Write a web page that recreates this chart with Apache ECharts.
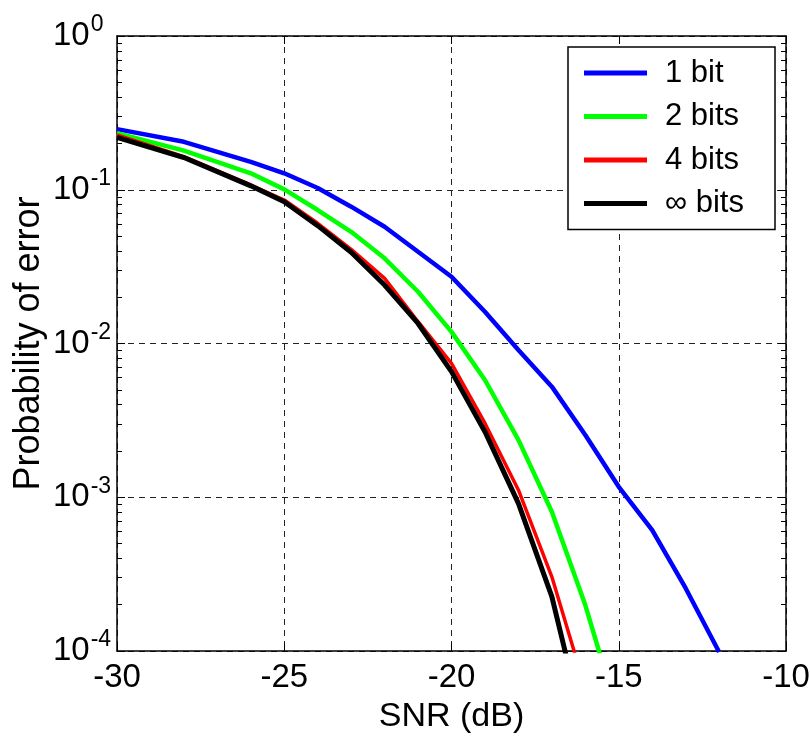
<!DOCTYPE html>
<html>
<head>
<meta charset="utf-8">
<script src="https://cdn.jsdelivr.net/npm/echarts@6/dist/echarts.min.js"></script>
<style>
  html, body { margin: 0; padding: 0; background: #fff; }
  #chart { width: 810px; height: 737px; }
</style>
</head>
<body>
<div id="chart"></div>
<script>
// values (SNR in dB, probability of error)
var snr1 = [-30, -28, -26, -25, -24, -23, -22, -21, -20, -19, -18, -17, -16, -15, -14, -13, -12];
var bit1 = [0.248, 0.205, 0.152, 0.128, 0.1026, 0.0776, 0.0575, 0.0395, 0.0272, 0.0161, 0.00908, 0.00524, 0.00254, 0.00117, 0.000612, 0.000256, 0.0000986];

var snr2 = [-30, -28, -26, -25, -24, -23, -22, -21, -20, -19, -18, -17, -16, -15];
var bit2 = [0.233, 0.1795, 0.128, 0.1006, 0.0738, 0.0533, 0.0358, 0.0217, 0.0119, 0.00579, 0.00236, 0.000805, 0.000199, 0.000037];

var snr4 = [-30, -28, -26, -25, -24, -23, -22, -21, -20, -19, -18, -17, -16];
var bit4 = [0.227, 0.164, 0.1074, 0.0858, 0.0605, 0.041, 0.0265, 0.01386, 0.00743, 0.00303, 0.001115, 0.000304, 0.000057];

var snrInf = [-30, -28, -26, -25, -24, -23, -22, -21, -20, -19, -18, -17, -16];
var bitInf = [0.219, 0.162, 0.106, 0.0836, 0.0584, 0.0392, 0.024, 0.0135, 0.00656, 0.00267, 0.000912, 0.000226, 0.0000285];

var names = ['1 bit', '2 bits', '4 bits', '\u221E bits'];
var colors = ['#0000ff', '#00ff00', '#ff0000', '#000000'];

function pairs(xs, ys) {
  var out = [];
  for (var i = 0; i < xs.length; i++) out.push([xs[i], ys[i]]);
  return out;
}

function mkLine(i, xs, ys, width) {
  return {
    name: names[i],
    type: 'line',
    data: pairs(xs, ys),
    symbol: 'none',
    clip: true,
    lineStyle: { color: colors[i], width: width },
    itemStyle: { color: colors[i] },
    z: 5
  };
}

var font = 'Liberation Sans, Arial, sans-serif';
var grid = { color: '#222', type: [6, 5], width: 1 };

var chart = echarts.init(document.getElementById('chart'));
chart.setOption({
  animation: false,
  backgroundColor: '#fff',
  grid: { left: 117, right: 24, top: 36, bottom: 86, containLabel: false, outerBoundsMode: 'none' },
  legend: {
    data: names.map(function (n) { return { name: n, icon: 'rect' }; }),
    orient: 'vertical',
    right: 35,
    top: 47,
    itemWidth: 63,
    itemHeight: 5,
    itemGap: 7.5,
    padding: [8, 22, 8, 16],
    borderColor: '#000',
    borderWidth: 1.5,
    borderRadius: 0,
    backgroundColor: '#fff',
    textStyle: { fontFamily: font, fontSize: 31, color: '#000', lineHeight: 36, width: 88, padding: [0, 0, 0, 13] }
  },
  xAxis: [{
    type: 'value',
    min: -30, max: -10, interval: 5,
    name: 'SNR (dB)',
    nameLocation: 'middle',
    nameGap: 49,
    nameMoveOverlap: false,
    nameTextStyle: { fontFamily: font, fontSize: 34, color: '#000' },
    axisLine: { lineStyle: { color: '#000', width: 1.5 } },
    axisTick: { inside: true, length: 8, lineStyle: { color: '#000' } },
    axisLabel: { fontFamily: font, fontSize: 33, color: '#000', margin: 10 },
    splitLine: { show: true, lineStyle: grid }
  }, {
    type: 'value', position: 'top',
    min: -30, max: -10, interval: 5,
    axisLine: { lineStyle: { color: '#000', width: 1.5 } },
    axisTick: { inside: true, length: 8, lineStyle: { color: '#000' } },
    axisLabel: { show: false },
    splitLine: { show: false }
  }],
  yAxis: [{
    type: 'log',
    min: 0.0001, max: 1,
    logBase: 10,
    name: 'Probability of error',
    nameLocation: 'middle',
    nameGap: 70,
    nameMoveOverlap: false,
    nameTextStyle: { fontFamily: font, fontSize: 36, color: '#000' },
    axisLine: { lineStyle: { color: '#000', width: 1.5 } },
    axisTick: { inside: true, length: 8, lineStyle: { color: '#000' } },
    minorTick: { show: true, splitNumber: 9, length: 5, lineStyle: { color: '#000' } },
    axisLabel: {
      margin: 64,
      align: 'left',
      formatter: function (v) {
        var e = Math.round(Math.log10(v));
        return '{b|10}{s|' + e + '}';
      },
      rich: {
        b: { fontFamily: font, fontSize: 33, color: '#000' },
        s: { fontFamily: font, fontSize: 23, color: '#000', padding: [0, 0, 22, 1] }
      }
    },
    splitLine: { show: true, lineStyle: grid }
  }, {
    type: 'log',
    min: 0.0001, max: 1,
    logBase: 10,
    position: 'right',
    axisLine: { lineStyle: { color: '#000', width: 1.5 } },
    axisTick: { inside: true, length: 8, lineStyle: { color: '#000' } },
    minorTick: { show: true, splitNumber: 9, length: 5, lineStyle: { color: '#000' } },
    axisLabel: { show: false },
    splitLine: { show: false }
  }],
  series: [
    mkLine(0, snr1, bit1, 4.5),
    mkLine(1, snr2, bit2, 4.5),
    mkLine(2, snr4, bit4, 3.5),
    mkLine(3, snrInf, bitInf, 5)
  ]
});
</script>
</body>
</html>
